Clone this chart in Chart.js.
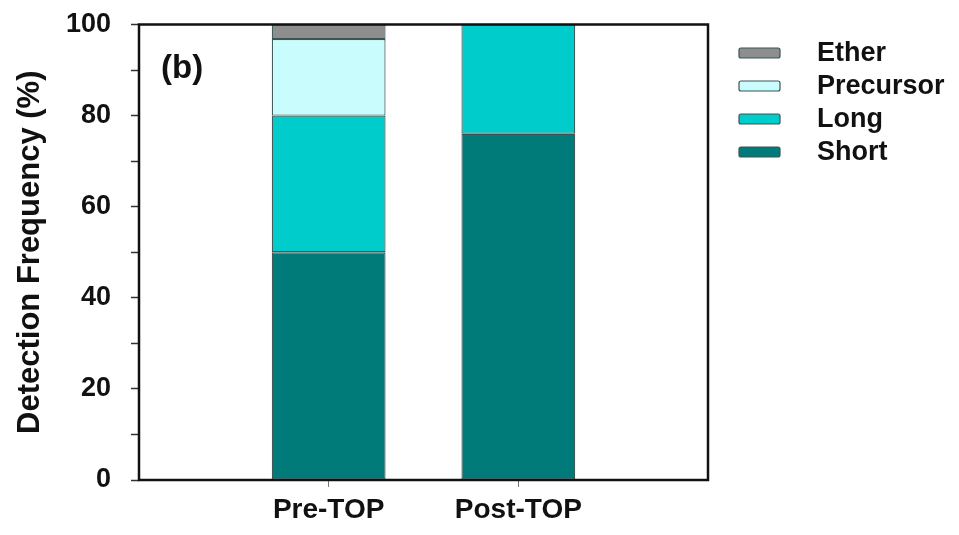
<!DOCTYPE html>
<html>
<head>
<meta charset="utf-8">
<script src="https://cdn.jsdelivr.net/npm/chart.js@4/dist/chart.umd.min.js"></script>
<style>
html,body{margin:0;padding:0;background:#fff;}
#wrap{width:959px;height:535px;position:relative;}
</style>
</head>
<body>
<div id="wrap"><canvas id="c" width="959" height="535"></canvas></div>
<script>
// ---- data ----
const categories = ['Pre-TOP', 'Post-TOP'];
const shortVals = [50, 76];
const longVals = [30, 24];
const precursorVals = [16.8, 0];
const etherVals = [3.2, 0];
const yTicks = [0, 20, 40, 60, 80, 100];
const seriesNames = ['Short', 'Long', 'Precursor', 'Ether'];
const seriesColors = ['#007b79', '#00cccc', '#c9fcfc', '#8e8e8e'];

// pad the category axis so bars sit at 1/3 and 2/3 of the plot width
const labels = [''].concat(categories, ['']);
const pad = arr => [null].concat(arr, [null]);
const seriesVals = [shortVals, longVals, precursorVals, etherVals];

const FONT = 'Liberation Sans, Arial, Helvetica, sans-serif';

const frame = {
  id: 'frame',
  afterDatasetsDraw(chart) {
    const a = chart.chartArea, ctx = chart.ctx;
    ctx.save();
    ctx.strokeStyle = '#111';
    ctx.lineWidth = 2.5;
    ctx.strokeRect(a.left, a.top, a.right - a.left, a.bottom - a.top);
    // panel label
    ctx.fillStyle = '#111';
    ctx.font = 'bold 33px ' + FONT;
    ctx.textBaseline = 'middle';
    ctx.textAlign = 'left';
    ctx.fillText('(b)', a.left + 22, a.top + 44);
    ctx.restore();
  }
};

const customLegend = {
  id: 'customLegend',
  afterDraw(chart) {
    const a = chart.chartArea, ctx = chart.ctx;
    const ds = chart.data.datasets.slice().reverse();
    ctx.save();
    ds.forEach((d, i) => {
      const bx = a.right + 31, cy = a.top + 28.5 + i * 33;
      ctx.fillStyle = d.backgroundColor;
      ctx.strokeStyle = '#3c5454';
      ctx.lineWidth = 1.2;
      ctx.beginPath();
      ctx.roundRect(bx, cy - 5, 41, 10, 2);
      ctx.fill();
      ctx.stroke();
      ctx.fillStyle = '#111';
      ctx.font = 'bold 27px ' + FONT;
      ctx.textBaseline = 'middle';
      ctx.textAlign = 'left';
      ctx.fillText(d.label, bx + 78, cy + 1);
    });
    ctx.restore();
  }
};

new Chart(document.getElementById('c'), {
  type: 'bar',
  data: {
    labels: labels,
    datasets: seriesNames.map((n, i) => ({
      label: n,
      data: pad(seriesVals[i]),
      backgroundColor: seriesColors[i],
      borderColor: '#3c5454',
      borderWidth: 1.2,
      borderSkipped: false,
      categoryPercentage: 1,
      barPercentage: 0.6
    }))
  },
  options: {
    responsive: false,
    animation: false,
    layout: { padding: { left: 0, right: 251, top: 24.5, bottom: 0 } },
    plugins: { legend: { display: false }, tooltip: { enabled: false } },
    scales: {
      x: {
        stacked: true,
        offset: false,
        grid: {
          offset: false,
          drawOnChartArea: false,
          drawTicks: true,
          tickLength: 7,
          tickColor: c => (c.index === 1 || c.index === 2) ? '#777' : 'rgba(0,0,0,0)'
        },
        border: { display: false },
        ticks: {
          color: '#111',
          font: { family: FONT, size: 28, weight: 'bold' },
          padding: 6,
          maxRotation: 0,
          autoSkip: false
        },
        afterFit: s => { s.height = 55; s.paddingLeft = 0; s.paddingRight = 0; }
      },
      y: {
        stacked: true,
        min: 0,
        max: 100,
        grid: {
          drawOnChartArea: false,
          drawTicks: true,
          tickLength: 8,
          tickColor: '#333',
          tickWidth: 1.5
        },
        border: { display: false },
        ticks: {
          stepSize: 10,
          color: '#111',
          font: { family: FONT, size: 27, weight: 'bold' },
          padding: 20,
          callback: v => yTicks.includes(v) ? String(v) : ''
        },
        title: {
          display: true,
          text: 'Detection Frequency (%)',
          color: '#111',
          font: { family: FONT, size: 31, weight: 'bold' },
          padding: { top: 12, bottom: 0 }
        },
        afterFit: s => { s.width = 139; s.paddingTop = 0; s.paddingBottom = 0; }
      }
    }
  },
  plugins: [frame, customLegend]
});
</script>
</body>
</html>
